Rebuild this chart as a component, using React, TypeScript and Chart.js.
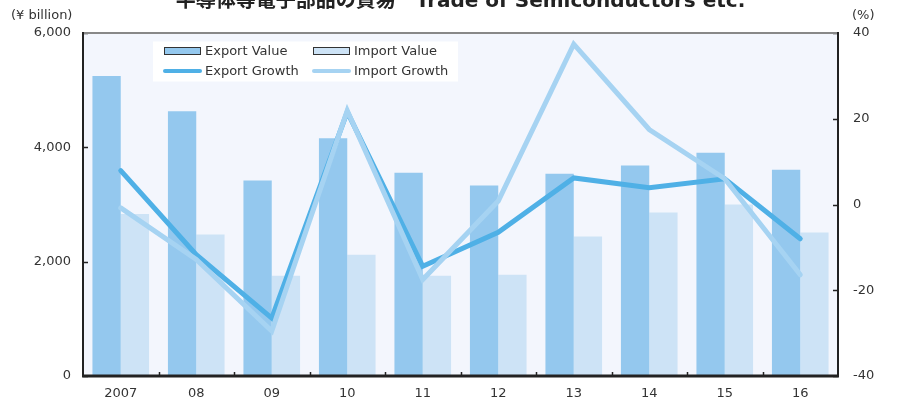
import React, { useEffect, useRef } from "react";
import { Chart, registerables } from "chart.js";

Chart.register(...registerables);

const categories = ["2007", "08", "09", "10", "11", "12", "13", "14", "15", "16"];
const exportValue = [5246, 4632, 3421, 4158, 3556, 3333, 3538, 3684, 3906, 3608];
const importValue = [2836, 2474, 1754, 2123, 1754, 1772, 2439, 2860, 3000, 2509];
const exportGrowth = [7.9, -11.7, -26.5, 21.6, -14.4, -6.5, 6.2, 3.9, 6.0, -8.0];
const importGrowth = [-0.8, -12.8, -29.5, 21.9, -17.5, 0.8, 37.4, 17.5, 6.0, -16.4];
const leftTicks = [0, 2000, 4000, 6000];
const rightTicks = [-40, -20, 0, 20, 40];
const titleText = "半導体等電子部品の貿易　Trade of Semiconductors etc.";
const leftUnit = "(¥ billion)";
const rightUnit = "(%)";

const C_EXP_BAR = "#94C8EE";
const C_IMP_BAR = "#CDE3F6";
const C_EXP_LINE = "#4FB0E6";
const C_IMP_LINE = "#A6D3F2";
const C_BG = "#F3F6FD";
const C_TEXT = "#333333";
const FONT = "'DejaVu Sans', Verdana, sans-serif";

const decorPlugin = {
  id: "decor",
  beforeDraw(chart: any) {
    const { ctx, chartArea: a, width, height } = chart;
    ctx.save();
    ctx.fillStyle = "#ffffff";
    ctx.fillRect(0, 0, width, height);
    ctx.fillStyle = C_BG;
    ctx.fillRect(a.left, a.top, a.right - a.left, a.bottom - a.top);
    ctx.restore();
  },
  afterDraw(chart: any) {
    const { ctx, chartArea: a } = chart;
    const yl = chart.scales.y;
    const yr = chart.scales.y2;
    const x = chart.scales.x;
    ctx.save();
    // ticks
    ctx.strokeStyle = "#222";
    ctx.lineWidth = 1.5;
    ctx.beginPath();
    leftTicks.forEach((v) => {
      const py = Math.round(yl.getPixelForValue(v)) + 0.5;
      ctx.moveTo(a.left, py);
      ctx.lineTo(a.left + 5, py);
    });
    rightTicks.forEach((v) => {
      const py = Math.round(yr.getPixelForValue(v)) + 0.5;
      ctx.moveTo(a.right - 5, py);
      ctx.lineTo(a.right, py);
    });
    for (let i = 1; i < categories.length; i++) {
      const px = Math.round((x.getPixelForValue(i - 1) + x.getPixelForValue(i)) / 2) + 0.5;
      ctx.moveTo(px, a.bottom);
      ctx.lineTo(px, a.bottom - 4);
    }
    ctx.stroke();
    // frame
    ctx.strokeStyle = "#888";
    ctx.lineWidth = 2;
    ctx.beginPath();
    ctx.moveTo(a.left, a.top);
    ctx.lineTo(a.right, a.top);
    ctx.stroke();
    ctx.strokeStyle = "#222";
    ctx.lineWidth = 2;
    ctx.beginPath();
    ctx.moveTo(a.left, a.top - 1);
    ctx.lineTo(a.left, a.bottom);
    ctx.moveTo(a.right, a.top - 1);
    ctx.lineTo(a.right, a.bottom);
    ctx.stroke();
    ctx.lineWidth = 3;
    ctx.beginPath();
    ctx.moveTo(a.left - 1, a.bottom);
    ctx.lineTo(a.right + 1, a.bottom);
    ctx.stroke();

    // legend
    ctx.fillStyle = "#ffffff";
    ctx.fillRect(153, 41.5, 305, 40);
    ctx.font = `13px ${FONT}`;
    ctx.textBaseline = "middle";
    ctx.textAlign = "left";
    const items = [
      { t: "Export Value", kind: "box", c: C_EXP_BAR, x: 164, y: 51 },
      { t: "Import Value", kind: "box", c: C_IMP_BAR, x: 313, y: 51 },
      { t: "Export Growth", kind: "line", c: C_EXP_LINE, x: 164, y: 71 },
      { t: "Import Growth", kind: "line", c: C_IMP_LINE, x: 313, y: 71 },
    ];
    items.forEach((it) => {
      if (it.kind === "box") {
        ctx.fillStyle = it.c;
        ctx.fillRect(it.x, it.y - 4, 37, 8);
        ctx.strokeStyle = "#333";
        ctx.lineWidth = 1;
        ctx.strokeRect(it.x + 0.5, it.y - 3.5, 36, 7);
      } else {
        ctx.strokeStyle = it.c;
        ctx.lineWidth = 4;
        ctx.lineCap = "round";
        ctx.beginPath();
        ctx.moveTo(it.x + 1, it.y);
        ctx.lineTo(it.x + 36, it.y);
        ctx.stroke();
      }
      ctx.fillStyle = C_TEXT;
      ctx.fillText(it.t, it.x + 41, it.y + 1);
    });

    // units
    ctx.font = `13px ${FONT}`;
    ctx.fillStyle = C_TEXT;
    ctx.textAlign = "left";
    ctx.fillText(leftUnit, 11, 16);
    ctx.fillText(rightUnit, 852, 16);

    // title
    ctx.font = `bold 20px ${FONT}, 'Noto Sans CJK JP'`;
    ctx.fillStyle = "#222";
    ctx.textAlign = "center";
    ctx.textBaseline = "alphabetic";
    ctx.fillText(titleText, (a.left + a.right) / 2, 7);
    ctx.restore();
  },
};

export default function App() {
  const ref = useRef<HTMLCanvasElement | null>(null);
  useEffect(() => {
    if (!ref.current) return;
    const chart = new Chart(ref.current, {
      type: "bar",
      data: {
        labels: categories,
        datasets: [
          {
            type: "line",
            label: "Import Growth",
            data: importGrowth,
            yAxisID: "y2",
            borderColor: C_IMP_LINE,
            backgroundColor: C_IMP_LINE,
            borderWidth: 5,
            pointRadius: 0,
            borderCapStyle: "round",
            borderJoinStyle: "miter",
            tension: 0,
            order: 0,
          } as any,
          {
            type: "line",
            label: "Export Growth",
            data: exportGrowth,
            yAxisID: "y2",
            borderColor: C_EXP_LINE,
            backgroundColor: C_EXP_LINE,
            borderWidth: 5,
            pointRadius: 0,
            borderCapStyle: "round",
            borderJoinStyle: "miter",
            tension: 0,
            order: 1,
          } as any,
          {
            type: "bar",
            label: "Export Value",
            data: exportValue,
            yAxisID: "y",
            backgroundColor: C_EXP_BAR,
            categoryPercentage: 0.75,
            barPercentage: 1,
            order: 2,
          },
          {
            type: "bar",
            label: "Import Value",
            data: importValue,
            yAxisID: "y",
            backgroundColor: C_IMP_BAR,
            categoryPercentage: 0.75,
            barPercentage: 1,
            order: 3,
          },
        ],
      },
      options: {
        responsive: false,
        animation: false,
        layout: { padding: { top: 33, left: 0, right: 0, bottom: 0 } },
        plugins: {
          legend: { display: false },
          title: { display: false },
          tooltip: { enabled: false },
        },
        scales: {
          x: {
            offset: true,
            grid: { display: false, drawTicks: false },
            border: { display: false },
            ticks: { color: C_TEXT, font: { family: FONT, size: 13 }, padding: 10, maxRotation: 0 },
            afterFit: (s: any) => {
              s.height = 34;
            },
          },
          y: {
            position: "left",
            min: 0,
            max: 6000,
            grid: { display: false, drawTicks: false },
            border: { display: false },
            ticks: {
              stepSize: 2000,
              color: C_TEXT,
              font: { family: FONT, size: 13 },
              padding: 12,
              callback: (v: any) => Number(v).toLocaleString("en-US"),
            },
            afterFit: (s: any) => {
              s.width = 83;
            },
          },
          y2: {
            position: "right",
            min: -40,
            max: 40,
            grid: { display: false, drawTicks: false },
            border: { display: false },
            ticks: { stepSize: 20, color: C_TEXT, font: { family: FONT, size: 13 }, padding: 15 },
            afterFit: (s: any) => {
              s.width = 59;
            },
          },
        },
      },
      plugins: [decorPlugin],
    });
    return () => chart.destroy();
  }, []);
  return (
    <div style={{ position: "fixed", left: 0, top: 0, width: 897, height: 410 }}>
      <canvas ref={ref} width={897} height={410} style={{ display: "block" }} />
    </div>
  );
}
